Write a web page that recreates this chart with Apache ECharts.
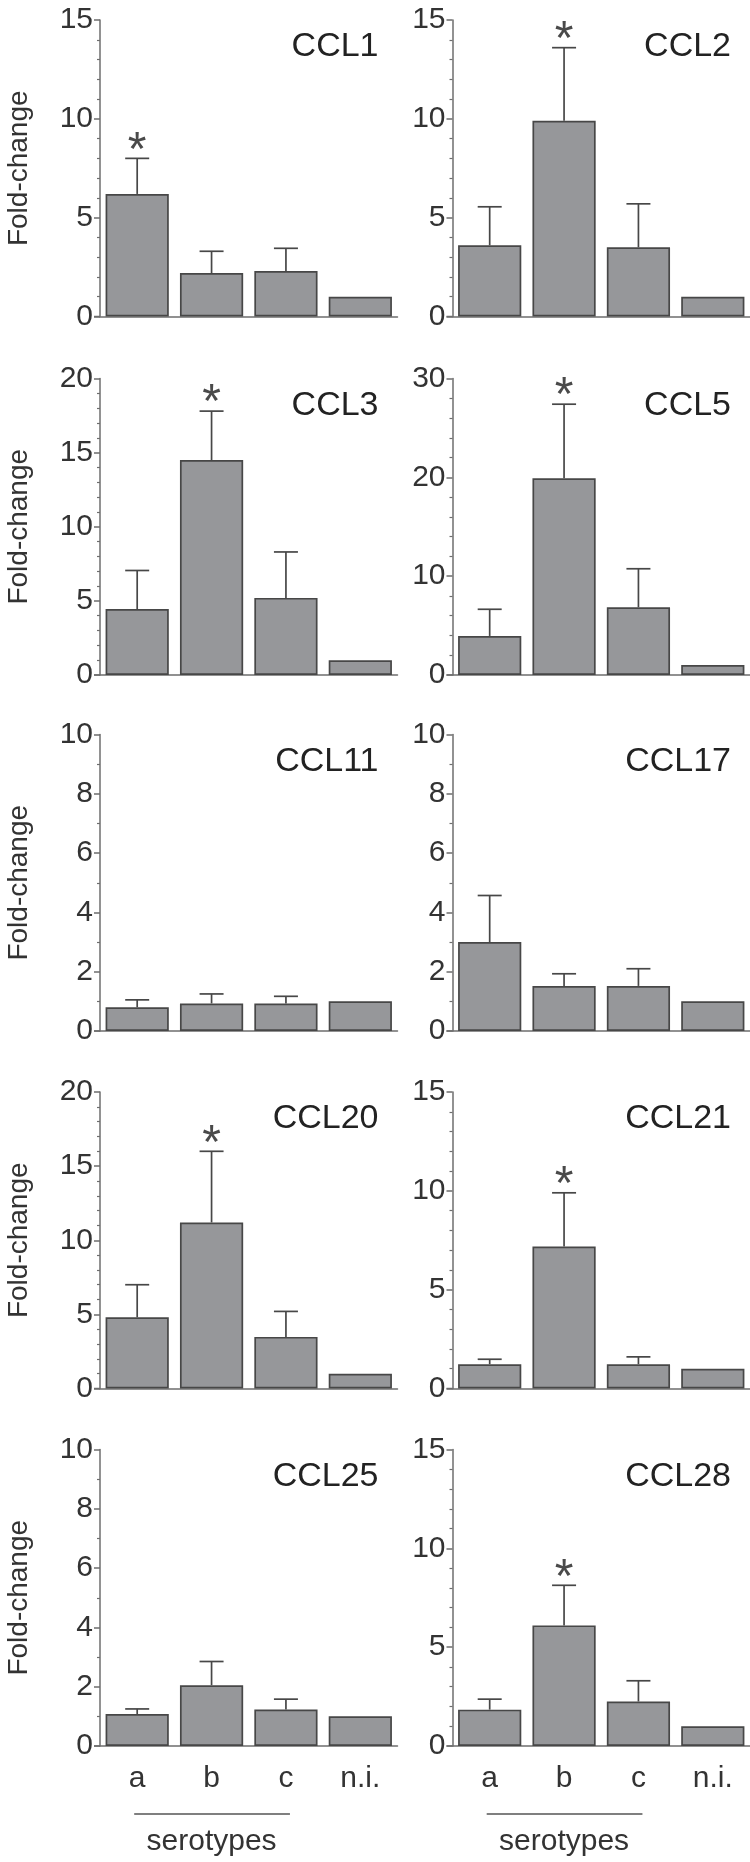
<!DOCTYPE html>
<html><head><meta charset="utf-8">
<script src="https://cdn.jsdelivr.net/npm/echarts@6/dist/echarts.min.js"></script>
<style>html,body{margin:0;padding:0;background:#fff}#main{width:750px;height:1862px}</style>
</head><body><div id="main"></div>
<script>
// ---------- data ----------
const categories = ['a', 'b', 'c', 'n.i.'];
const panelNames = ['CCL1', 'CCL2', 'CCL3', 'CCL5', 'CCL11', 'CCL17', 'CCL20', 'CCL21', 'CCL25', 'CCL28'];
const yMax  = [15, 15, 20, 30, 10, 10, 20, 15, 10, 15];
const yStep = [5, 5, 5, 10, 2, 2, 5, 5, 2, 5];
const yMinorPerStep = [5, 5, 5, 5, 2, 2, 5, 5, 2, 5];

const meanCCL1  = [6.2, 2.2, 2.3, 1.0];   const upperCCL1  = [8.0, 3.3, 3.45];
const meanCCL2  = [3.6, 9.9, 3.5, 1.0];   const upperCCL2  = [5.55, 13.6, 5.7];
const meanCCL3  = [4.45, 14.5, 5.2, 1.0]; const upperCCL3  = [7.05, 17.8, 8.3];
const meanCCL5  = [3.95, 19.9, 6.85, 1.0];const upperCCL5  = [6.65, 27.4, 10.75];
const meanCCL11 = [0.8, 0.93, 0.93, 1.0]; const upperCCL11 = [1.05, 1.25, 1.17];
const meanCCL17 = [3.0, 1.52, 1.52, 1.0]; const upperCCL17 = [4.57, 1.93, 2.1];
const meanCCL20 = [4.8, 11.2, 3.48, 1.0]; const upperCCL20 = [7.0, 16.0, 5.2];
const meanCCL21 = [1.23, 7.18, 1.23, 1.0];const upperCCL21 = [1.48, 9.9, 1.6];
const meanCCL25 = [1.08, 2.05, 1.23, 1.0];const upperCCL25 = [1.25, 2.85, 1.58];
const meanCCL28 = [1.84, 6.1, 2.25, 1.0]; const upperCCL28 = [2.37, 8.13, 3.3];
// index of the bar marked with an asterisk (-1 = none)
const starIndex = [0, 1, 1, 1, -1, -1, 1, 1, -1, 1];

const means  = [meanCCL1, meanCCL2, meanCCL3, meanCCL5, meanCCL11, meanCCL17, meanCCL20, meanCCL21, meanCCL25, meanCCL28];
const uppers = [upperCCL1, upperCCL2, upperCCL3, upperCCL5, upperCCL11, upperCCL17, upperCCL20, upperCCL21, upperCCL25, upperCCL28];

// ---------- layout / style ----------
const FONT = "'Liberation Sans', Arial, Helvetica, sans-serif";
const colLeft = [100, 452.5];
const gridW = 297.5;
const rowTop = [20, 378.5, 734.5, 1092, 1449.5];
const gridH = 296.5;
const AXIS = '#6e6e6e';
const TXT = '#333333';
const BAR = '#96979a';
const EDGE = '#474747';

const chart = echarts.init(document.getElementById('main'), null, {renderer: 'canvas'});

const grids = [], xAxes = [], yAxes = [], series = [];
panelNames.forEach((name, i) => {
  const row = Math.floor(i / 2), col = i % 2;
  grids.push({left: colLeft[col], top: rowTop[row], width: gridW, height: gridH, containLabel: false});
  xAxes.push({
    type: 'category', gridIndex: i, data: categories,
    axisLine: {lineStyle: {color: AXIS, width: 1.5}},
    axisTick: {alignWithLabel: true, length: 4, lineStyle: {color: AXIS, width: 1.5}},
    axisLabel: {show: row === 4, fontSize: 30, color: TXT, margin: 18, fontFamily: FONT},
    splitLine: {show: false}
  });
  yAxes.push({
    type: 'value', gridIndex: i, min: 0, max: yMax[i], interval: yStep[i],
    axisLine: {show: true, lineStyle: {color: AXIS, width: 1.5}},
    axisTick: {show: true, length: 6, lineStyle: {color: AXIS, width: 1.5}},
    minorTick: {show: true, splitNumber: yMinorPerStep[i], length: 3, lineStyle: {color: AXIS, width: 1.2}},
    splitLine: {show: false},
    axisLabel: {fontSize: 30, color: TXT, margin: 7, fontFamily: FONT}
  });
  series.push({
    type: 'bar', xAxisIndex: i, yAxisIndex: i, data: means[i], barWidth: '85%', silent: true,
    itemStyle: {color: BAR, borderColor: EDGE, borderWidth: 1.7}
  });
  series.push({
    type: 'custom', xAxisIndex: i, yAxisIndex: i, silent: true, z: 5,
    encode: {x: 0, y: 2},
    data: uppers[i].map((u, j) => [j, means[i][j], u, j === starIndex[i] ? 1 : 0]),
    renderItem: function (params, api) {
      const j = api.value(0), m = api.value(1), u = api.value(2), s = api.value(3);
      const base = api.coord([j, m]);
      const top = api.coord([j, u]);
      const children = [
        {type: 'line', shape: {x1: top[0], y1: base[1], x2: top[0], y2: top[1]}, style: {stroke: EDGE, lineWidth: 1.7}},
        {type: 'line', shape: {x1: top[0] - 12, y1: top[1], x2: top[0] + 12, y2: top[1]}, style: {stroke: EDGE, lineWidth: 1.7}}
      ];
      if (s) {
        children.push({type: 'text', x: top[0], y: top[1] - 7,
          style: {text: '*', fontSize: 48, fontFamily: FONT, fill: '#4a4a4a', align: 'center', verticalAlign: 'middle'}});
      }
      return {type: 'group', children: children};
    }
  });
});

chart.setOption({
  backgroundColor: '#ffffff',
  animation: false,
  grid: grids, xAxis: xAxes, yAxis: yAxes, series: series
});

// ---------- annotations placed from the axes ----------
const graphics = [];
panelNames.forEach((name, i) => {
  const row = Math.floor(i / 2), col = i % 2;
  const zero = chart.convertToPixel({yAxisIndex: i}, 0);
  const topPx = chart.convertToPixel({yAxisIndex: i}, yMax[i]);
  const rightPx = colLeft[col] + gridW;
  // panel title
  graphics.push({type: 'text', x: rightPx - 19, y: topPx + 27,
    style: {text: name, fontSize: 34, fontFamily: FONT, fill: '#222', align: 'right', verticalAlign: 'middle'}});
  // x-axis stub to the left of the y axis
  graphics.push({type: 'line', shape: {x1: colLeft[col] - 6, y1: zero, x2: colLeft[col], y2: zero},
    style: {stroke: AXIS, lineWidth: 1.5}});
  if (col === 0) {
    graphics.push({type: 'text', x: 19, y: (zero + topPx) / 2, rotation: Math.PI / 2,
      style: {text: 'Fold-change', fontSize: 28, fontFamily: FONT, fill: TXT, align: 'center', verticalAlign: 'middle'}});
  }
  if (row === 4) {
    const xa = chart.convertToPixel({xAxisIndex: i}, 'a');
    const xb = chart.convertToPixel({xAxisIndex: i}, 'b');
    const xc = chart.convertToPixel({xAxisIndex: i}, 'c');
    graphics.push({type: 'line', shape: {x1: xa - 3, y1: zero + 68, x2: xc + 4, y2: zero + 68},
      style: {stroke: '#555', lineWidth: 1.5}});
    graphics.push({type: 'text', x: xb, y: zero + 96,
      style: {text: 'serotypes', fontSize: 30, fontFamily: FONT, fill: TXT, align: 'center', verticalAlign: 'middle'}});
  }
});
chart.setOption({graphic: graphics});
</script>
</body></html>
